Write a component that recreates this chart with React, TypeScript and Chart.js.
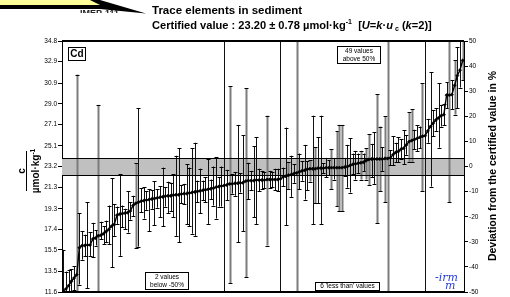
import { useEffect, useRef } from "react";
import { Chart, registerables } from "chart.js";
Chart.register(...registerables);

// Sorted laboratory results (µmol·kg-1)
const values = [
  11.7, 11.9, 12.2, 12.6, 12.9, 13.2, 15.7, 15.9, 15.9, 15.95,
  15.95, 16.5, 16.6, 16.8, 16.85, 17.0, 17.2, 17.4, 17.7, 17.85,
  18.7, 18.8, 18.85, 18.9, 18.95, 19.1, 19.6, 19.8, 19.9, 20.0,
  20.05, 20.1, 20.15, 20.2, 20.25, 20.3, 20.35, 20.4, 20.45, 20.5,
  20.5, 20.55, 20.6, 20.6, 20.65, 20.7, 20.7, 20.75, 20.8, 20.85,
  20.9, 20.95, 21.0, 21.05, 21.1, 21.15, 21.2, 21.3, 21.35, 21.4,
  21.45, 21.5, 21.6, 21.6, 21.65, 21.65, 21.7, 21.7, 21.85, 21.9,
  21.9, 21.9, 21.95, 21.95, 21.95, 21.95, 22.0, 22.0, 22.0, 22.0,
  22.0, 22.05, 22.25, 22.3, 22.4, 22.45, 22.55, 22.6, 22.7, 22.8,
  22.85, 22.95, 23.0, 23.0, 23.0, 23.05, 23.05, 23.05, 23.1, 23.1,
  23.1, 23.1, 23.1, 23.1, 23.1, 23.15, 23.2, 23.3, 23.4, 23.45,
  23.5, 23.55, 23.6, 23.75, 23.85, 23.9, 23.9, 23.9, 23.9, 23.9,
  23.95, 23.95, 24.0, 24.3, 24.5, 24.6, 24.8, 24.9, 25.2, 25.5,
  25.6, 25.7, 25.8, 25.9, 26.0, 26.05, 26.5, 26.9, 27.2, 27.5,
  27.7, 27.9, 28.0, 29.8, 29.8, 29.85, 30.7, 31.6, 32.1, 33.0,
];

const lowerBounds = [
  10.0, 10.5, 11.0, 11.5, 11.8, 5.0, 12.3, 14.6, 14.9, 11.95,
  14.95, 14.8, 15.9, 5.0, 16.5, 16.0, 16.2, 16.0, 13.9, 16.8,
  17.9, 14.95, 17.6, 17.4, 17.1, 18.3, 18.6, 15.65, 15.8, 19.0,
  18.4, 19.2, 17.2, 19.3, 17.8, 19.4, 18.5, 17.7, 19.5, 18.9,
  19.1, 18.5, 16.8, 16.2, 19.8, 19.7, 17.85, 17.7, 17.0, 16.8,
  19.9, 18.9, 20.1, 19.9, 17.9, 20.2, 19.6, 18.4, 19.5, 19.5,
  5.0, 20.1, 12.4, 20.7, 20.5, 16.2, 20.8, 17.25, 12.95, 20.2,
  21.0, 18.5, 17.9, 20.9, 21.1, 21.2, 15.9, 21.2, 21.3, 21.0,
  20.9, 5.0, 21.4, 17.8, 21.1, 20.4, 21.7, 5.0, 21.1, 21.9,
  20.15, 21.0, 21.8, 17.9, 19.8, 19.8, 17.9, 22.6, 22.2, 22.4,
  21.1, 22.0, 19.55, 19.05, 19.05, 22.3, 21.25, 20.8, 22.5, 22.0,
  22.6, 22.0, 22.8, 22.0, 21.5, 22.2, 21.6, 17.95, 20.9, 22.8,
  19.9, 5.0, 23.3, 23.3, 23.6, 23.6, 23.9, 23.4, 24.3, 23.6,
  23.6, 24.8, 24.6, 24.9, 20.9, 5.0, 25.4, 21.35, 26.0, 26.5,
  24.95, 26.9, 27.0, 28.6, 19.9, 28.5, 28.0, 28.6, 30.5, 31.2,
];

const upperBounds = [
  15.5, 13.5, 13.6, 13.7, 14.0, 31.7, 18.9, 17.25, 16.9, 19.9,
  17.15, 18.0, 17.3, 28.9, 18.1, 17.7, 18.2, 19.6, 22.1, 19.7,
  19.5, 22.5, 19.6, 19.3, 20.9, 19.9, 20.5, 23.5, 28.6, 21.2,
  21.3, 20.9, 21.1, 21.0, 21.85, 21.1, 21.4, 23.1, 21.3, 21.8,
  21.7, 22.5, 24.2, 24.9, 21.5, 21.6, 23.4, 23.1, 24.9, 25.4,
  21.9, 23.0, 21.9, 22.2, 23.9, 22.0, 23.2, 24.05, 22.2, 23.2,
  40.0, 22.9, 30.6, 22.5, 22.7, 27.05, 22.6, 26.1, 30.45, 23.55,
  22.8, 25.1, 25.9, 23.0, 22.8, 22.7, 27.9, 22.8, 22.7, 23.0,
  23.0, 40.0, 23.1, 26.8, 23.6, 24.2, 23.4, 40.0, 24.4, 23.7,
  25.2, 23.7, 23.8, 27.9, 25.0, 25.9, 27.9, 23.5, 24.0, 23.8,
  24.8, 24.0, 26.45, 27.05, 27.05, 24.0, 25.2, 25.8, 24.4, 24.65,
  24.4, 24.65, 24.4, 24.9, 26.2, 25.3, 26.35, 29.9, 26.9, 25.0,
  27.85, 40.0, 24.7, 26.0, 25.4, 25.9, 25.7, 26.55, 26.1, 28.2,
  28.5, 26.6, 27.0, 26.9, 30.9, 40.0, 27.6, 31.9, 28.4, 28.6,
  30.9, 28.9, 29.0, 31.0, 40.0, 31.2, 33.0, 34.2, 40.0, 40.0,
];

const grayBars = [5, 13, 27, 62, 68, 76, 84, 87, 92, 94, 100, 102, 103, 104, 111, 113, 114, 117, 118, 120, 121, 129, 130, 134, 144, 146, 149];

const leftTicks = [11.6, 13.5, 15.5, 17.4, 19.3, 21.3, 23.2, 25.1, 27.1, 29.0, 30.9, 32.9, 34.8];
const rightTicks = [-50, -40, -30, -20, -10, 0, 10, 20, 30, 40, 50];

const certifiedValue = 23.2;
const expandedUncertainty = 0.78;

const FONT = '"Liberation Sans", Arial, sans-serif';

type Run = { t: string; f: string; dy?: number };
function drawRuns(ctx: CanvasRenderingContext2D, x: number, y: number, runs: Run[]) {
  let cx = x;
  for (const r of runs) {
    ctx.font = r.f;
    ctx.fillText(r.t, cx, y + (r.dy || 0));
    cx += ctx.measureText(r.t).width;
  }
}

function box(ctx: CanvasRenderingContext2D, x: number, y: number, w: number, h: number, lines: string[], font: string, lh: number) {
  ctx.fillStyle = "#fff";
  ctx.fillRect(x, y, w, h);
  ctx.strokeStyle = "#000";
  ctx.lineWidth = 1;
  ctx.strokeRect(x + 0.5, y + 0.5, w, h);
  ctx.fillStyle = "#000";
  ctx.font = font;
  ctx.textAlign = "center";
  ctx.textBaseline = "middle";
  const start = y + h / 2 - ((lines.length - 1) * lh) / 2 + 0.5;
  lines.forEach((l, i) => ctx.fillText(l, x + w / 2 + 0.5, start + i * lh));
  ctx.textAlign = "left";
  ctx.textBaseline = "alphabetic";
}

const decorPlugin = {
  id: "decor",
  beforeDatasetsDraw(chart: any) {
    const { ctx, chartArea: a, scales } = chart;
    const x = scales.x;
    const y = scales.y;
    ctx.save();
    ctx.beginPath();
    ctx.rect(a.left, a.top, a.right - a.left, a.bottom - a.top);
    ctx.clip();
    const yT = y.getPixelForValue(certifiedValue + expandedUncertainty);
    const yB = y.getPixelForValue(certifiedValue - expandedUncertainty);
    ctx.fillStyle = "#c0c0c0";
    ctx.fillRect(a.left, yT, a.right - a.left, yB - yT);
    for (let i = 0; i < values.length; i++) {
      const px = Math.round(x.getPixelForValue(i));
      const hiV = upperBounds[i];
      const loV = lowerBounds[i];
      const hi = y.getPixelForValue(hiV);
      const lo = y.getPixelForValue(loV);
      const gray = grayBars.includes(i);
      if (gray) {
        ctx.fillStyle = "#7c7c7c";
        ctx.fillRect(px - 0.5, hi, 2, lo - hi);
      } else {
        ctx.strokeStyle = "#111";
        ctx.lineWidth = 1;
        ctx.beginPath();
        ctx.moveTo(px + 0.5, hi);
        ctx.lineTo(px + 0.5, lo);
        ctx.stroke();
      }
      ctx.strokeStyle = "#000";
      ctx.lineWidth = 1;
      ctx.beginPath();
      if (hiV <= y.max) {
        ctx.moveTo(px - 1.5, Math.round(hi) + 0.5);
        ctx.lineTo(px + 2.5, Math.round(hi) + 0.5);
      }
      if (loV >= y.min) {
        ctx.moveTo(px - 1.5, Math.round(lo) + 0.5);
        ctx.lineTo(px + 2.5, Math.round(lo) + 0.5);
      }
      ctx.stroke();
    }
    ctx.restore();
  },
  afterDatasetsDraw(chart: any) {
    const { ctx, chartArea: a, scales } = chart;
    const y = scales.y;
    ctx.save();
    const yT = Math.round(y.getPixelForValue(certifiedValue + expandedUncertainty)) + 0.5;
    const yB = Math.round(y.getPixelForValue(certifiedValue - expandedUncertainty)) + 0.5;
    ctx.strokeStyle = "#000";
    ctx.lineWidth = 1;
    ctx.beginPath();
    ctx.moveTo(a.left, yT);
    ctx.lineTo(a.right, yT);
    ctx.moveTo(a.left, yB);
    ctx.lineTo(a.right, yB);
    ctx.stroke();
    // frame top & bottom
    ctx.lineWidth = 2;
    ctx.beginPath();
    ctx.moveTo(a.left, a.top);
    ctx.lineTo(a.right, a.top);
    ctx.moveTo(a.left, a.bottom);
    ctx.lineTo(a.right, a.bottom);
    ctx.stroke();

    // annotation boxes
    box(ctx, 68, 47, 17, 13, ["Cd"], `bold 10px ${FONT}`, 10);
    box(ctx, 337, 46, 43, 17, ["49 values", "above 50%"], `6.5px ${FONT}`, 7.5);
    box(ctx, 145, 272, 43, 17, ["2 values", "below -50%"], `6.5px ${FONT}`, 7.5);
    box(ctx, 315, 282, 64, 8, ["6 'less than' values"], `6.5px ${FONT}`, 7);

    // irmm logo
    ctx.fillStyle = "#2a3fd0";
    ctx.font = `italic 11px "DejaVu Serif", serif`;
    ctx.fillText("-irm", 435, 281);
    ctx.fillText("m", 445, 289);
    ctx.restore();
  },
  afterDraw(chart: any) {
    const { ctx } = chart;
    ctx.save();
    // top-left banner fragment
    ctx.fillStyle = "#ffff99";
    ctx.beginPath();
    ctx.moveTo(0, 0);
    ctx.lineTo(90, 0);
    ctx.lineTo(100, 5);
    ctx.lineTo(0, 5);
    ctx.closePath();
    ctx.fill();
    ctx.fillStyle = "#000";
    ctx.beginPath();
    ctx.moveTo(0, 5);
    ctx.lineTo(100, 5);
    ctx.lineTo(90, 0);
    ctx.lineTo(100, 0);
    ctx.lineTo(146, 13.5);
    ctx.lineTo(100, 9);
    ctx.lineTo(0, 9);
    ctx.closePath();
    ctx.fill();
    ctx.save();
    ctx.beginPath();
    ctx.rect(75, 9, 60, 4);
    ctx.clip();
    ctx.fillStyle = "#222";
    ctx.font = `bold 9px ${FONT}`;
    ctx.fillText("IMEP-111", 80, 16);
    ctx.restore();

    // titles
    ctx.fillStyle = "#000";
    ctx.textAlign = "left";
    ctx.textBaseline = "alphabetic";
    const B = `bold 11.5px ${FONT}`;
    const B2 = `bold 11.1px ${FONT}`;
    const BI = `italic bold 11.1px ${FONT}`;
    const S = `bold 7px ${FONT}`;
    drawRuns(ctx, 152, 14, [{ t: "Trace elements in sediment", f: B }]);
    drawRuns(ctx, 152, 29, [
      { t: "Certified value : 23.20 ± 0.78 µmol·kg", f: B2 },
      { t: "-1", f: S, dy: -5 },
      { t: "  [", f: B2 },
      { t: "U", f: BI },
      { t: "=", f: B2 },
      { t: "k", f: BI },
      { t: "·", f: B2 },
      { t: "u", f: BI },
      { t: " ", f: S },
      { t: "c", f: S, dy: 2 },
      { t: " (", f: B2 },
      { t: "k", f: BI },
      { t: "=2)]", f: B2 },
    ]);

    // left axis title (fraction)
    ctx.save();
    ctx.translate(0, 171);
    ctx.rotate(-Math.PI / 2);
    ctx.textAlign = "center";
    ctx.textBaseline = "middle";
    ctx.font = `bold 10px ${FONT}`;
    ctx.fillText("c", 0, 22);
    ctx.fillRect(-20, 26, 40, 1);
    ctx.textAlign = "left";
    const w1 = ctx.measureText("µmol·kg").width;
    ctx.font = `bold 6.5px ${FONT}`;
    const w2 = ctx.measureText("-1").width;
    const sx = -(w1 + w2) / 2;
    ctx.font = `bold 10px ${FONT}`;
    ctx.fillText("µmol·kg", sx, 36);
    ctx.font = `bold 6.5px ${FONT}`;
    ctx.fillText("-1", sx + w1, 33);
    ctx.restore();

    // right axis title
    ctx.save();
    ctx.translate(493, 166);
    ctx.rotate(-Math.PI / 2);
    ctx.textAlign = "center";
    ctx.textBaseline = "middle";
    ctx.font = `bold 10.5px ${FONT}`;
    ctx.fillText("Deviation from the certified value in %", 0, 0);
    ctx.restore();
    ctx.restore();
  },
};

export default function App() {
  const ref = useRef<HTMLCanvasElement>(null);
  useEffect(() => {
    if (!ref.current) return;
    const chart = new Chart(ref.current, {
      type: "line",
      data: {
        datasets: [
          {
            data: values.map((v, i) => ({ x: i, y: v })),
            borderColor: "#000",
            backgroundColor: "#000",
            borderWidth: 1.4,
            pointStyle: "rectRot",
            pointRadius: 1.7,
            pointBorderWidth: 0.5,
            tension: 0,
            yAxisID: "y",
          },
        ],
      },
      options: {
        animation: false,
        responsive: false,
        devicePixelRatio: 1,
        events: [],
        layout: { padding: { top: 41, bottom: 4, left: 0, right: 0 } },
        plugins: { legend: { display: false }, tooltip: { enabled: false } },
        scales: {
          x: { type: "linear", min: -0.5, max: values.length - 0.5, display: false },
          y: {
            position: "left",
            min: 11.6,
            max: 34.8,
            afterBuildTicks: (s: any) => {
              s.ticks = leftTicks.map((v) => ({ value: v }));
            },
            afterFit: (s: any) => {
              s.width = 62;
            },
            ticks: {
              color: "#000",
              font: { size: 6.5, family: FONT },
              padding: 1,
              callback: (v: any) => Number(v).toFixed(1),
            },
            grid: { drawOnChartArea: false, tickLength: 4, color: "#000" },
            border: { color: "#000", width: 1 },
          },
          y2: {
            position: "right",
            min: -50,
            max: 50,
            afterBuildTicks: (s: any) => {
              s.ticks = rightTicks.map((v) => ({ value: v }));
            },
            afterFit: (s: any) => {
              s.width = 46;
            },
            ticks: {
              color: "#000",
              font: { size: 6.5, family: FONT },
              padding: 1,
            },
            grid: { drawOnChartArea: false, tickLength: 4, color: "#000" },
            border: { color: "#000", width: 1 },
          },
        },
      },
      plugins: [decorPlugin],
    });
    return () => chart.destroy();
  }, []);
  return (
    <div style={{ position: "absolute", left: 0, top: 0, width: 510, height: 297, background: "#fff" }}>
      <canvas ref={ref} width={510} height={297} style={{ display: "block" }} />
    </div>
  );
}
